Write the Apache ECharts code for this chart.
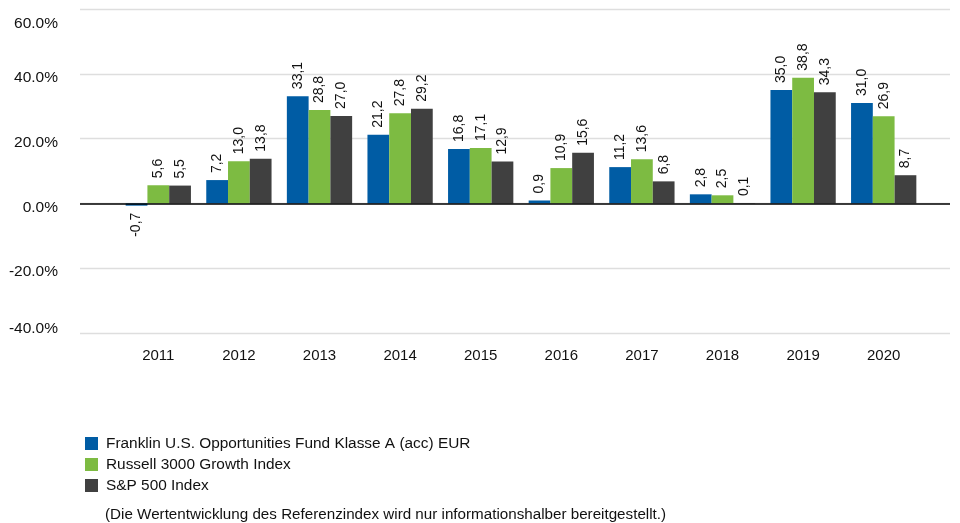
<!DOCTYPE html>
<html><head><meta charset="utf-8">
<script src="https://cdn.jsdelivr.net/npm/echarts@6/dist/echarts.min.js"></script>
<style>html,body{margin:0;padding:0;background:#fff}#c{width:960px;height:523px}</style>
</head><body><div id="c"></div>
<script>
var categories = ['2011','2012','2013','2014','2015','2016','2017','2018','2019','2020'];
var fund = [-0.7, 7.2, 33.1, 21.2, 16.8, 0.9, 11.2, 2.8, 35.0, 31.0];
var russell = [5.6, 13.0, 28.8, 27.8, 17.1, 10.9, 13.6, 2.5, 38.8, 26.9];
var sp500 = [5.5, 13.8, 27.0, 29.2, 12.9, 15.6, 6.8, 0.1, 34.3, 8.7];
var seriesNames = ['Franklin U.S. Opportunities Fund Klasse A (acc) EUR', 'Russell 3000 Growth Index', 'S&P 500 Index'];
var colors = ['#005CA4', '#7DBB42', '#404040'];
var yTicks = [-40, -20, 0, 20, 40, 60];
var note = '(Die Wertentwicklung des Referenzindex wird nur informationshalber bereitgestellt.)';

var FONT = '"Liberation Sans", Arial, sans-serif';
function fmt(v){ return v.toFixed(1).replace('.', ','); }
function mk(arr){
  return arr.map(function(v){
    var item = {value: v};
    if (v < 0) item.label = {position: 'bottom', align: 'right'};
    return item;
  });
}
var series = [fund, russell, sp500].map(function(arr, i){
  return {
    name: seriesNames[i], type: 'bar', xAxisIndex: 1, yAxisIndex: 1,
    data: mk(arr), itemStyle: {color: colors[i]},
    barGap: '0%', barCategoryGap: '19%',
    label: {show: true, position: 'top', rotate: 90, align: 'left', verticalAlign: 'middle',
      distance: 7, color: '#111', fontSize: 14, fontFamily: FONT,
      formatter: function(p){ return fmt(p.value); }}
  };
});
function yLabel(v){
  var key = v === 60 ? 't' : (v === -40 ? 'b' : 'm');
  return '{' + key + '|' + v.toFixed(1) + '%}';
}
var labStyle = {fontSize: 15.5, fontFamily: FONT, color: '#111'};
var chart = echarts.init(document.getElementById('c'));
chart.setOption({
  animation: false,
  textStyle: {fontFamily: FONT},
  grid: [
    {left: 80, right: 10, top: 9, height: 324},
    {left: 118, right: 36, top: 9, height: 324}
  ],
  xAxis: [
    {type: 'category', gridIndex: 0, data: categories, show: false},
    {type: 'category', gridIndex: 1, data: categories,
      axisLine: {show: false}, axisTick: {show: false},
      axisLabel: {color: '#111', fontSize: 15, fontFamily: FONT, margin: 15}}
  ],
  yAxis: [
    {type: 'value', gridIndex: 0, min: -40, max: 60, interval: 20,
      axisLine: {show: false}, axisTick: {show: false},
      axisLabel: {margin: 22, formatter: yLabel,
        rich: {
          t: Object.assign({padding: [30, 0, 0, 0]}, labStyle),
          m: Object.assign({padding: [8, 0, 0, 0]}, labStyle),
          b: Object.assign({padding: [0, 0, 9, 0]}, labStyle)
        }},
      splitLine: {lineStyle: {color: '#dedede', width: 1.3}}},
    {type: 'value', gridIndex: 1, min: -40, max: 60, interval: 20, show: false, splitLine: {show: false}}
  ],
  legend: {
    orient: 'vertical', left: 80, top: 431, itemWidth: 13, itemHeight: 13, itemGap: 6,
    icon: 'rect', textStyle: {fontSize: 15.4, color: '#111', fontFamily: FONT, padding: [0,0,0,3]},
    data: seriesNames
  },
  graphic: [
    {type: 'text', left: 105, top: 507, style: {text: note, fontSize: 15.2, fill: '#111', fontFamily: FONT}}
  ],
  series: series.concat([{
    type: 'line', xAxisIndex: 0, yAxisIndex: 0, data: [], silent: true,
    markLine: {symbol: 'none', silent: true, label: {show: false},
      lineStyle: {color: '#000', width: 1.7, type: 'solid'}, data: [{yAxis: 0}]}
  }])
});
</script>
</body></html>
